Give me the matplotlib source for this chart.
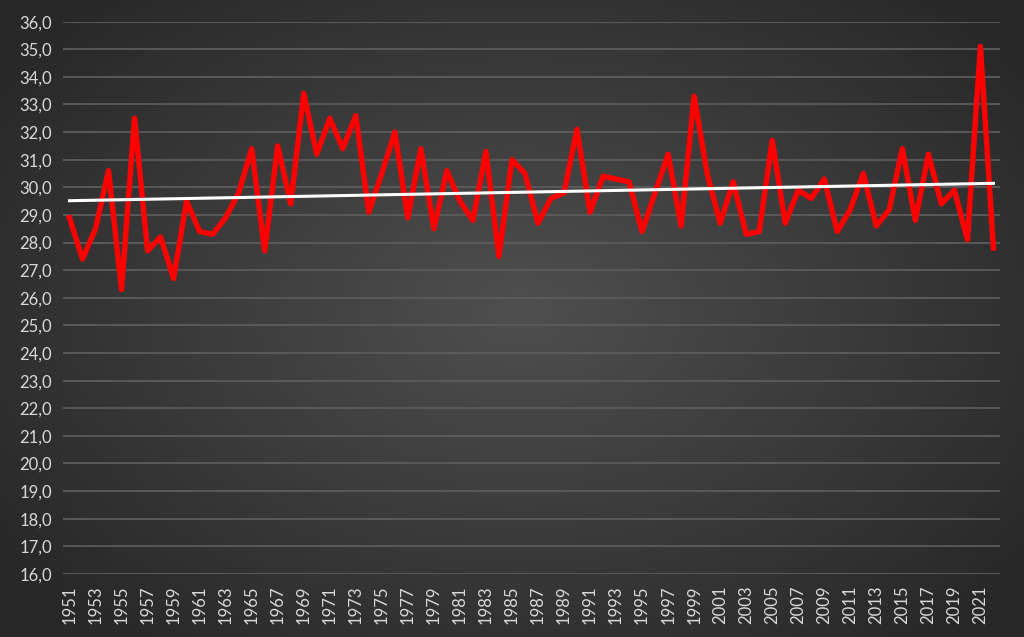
import matplotlib
matplotlib.use("Agg")
import matplotlib.pyplot as plt
from matplotlib.ticker import FuncFormatter
import numpy as np

# yearly values
years = list(range(1951, 2023))
values = [
    28.9, 27.4, 28.5, 30.6, 26.3, 32.5, 27.7, 28.2, 26.7, 29.5,
    28.4, 28.3, 28.9, 29.8, 31.4, 27.7, 31.5, 29.4, 33.4, 31.2,
    32.5, 31.4, 32.6, 29.1, 30.5, 32.0, 28.9, 31.4, 28.5, 30.6,
    29.5, 28.8, 31.3, 27.5, 31.0, 30.5, 28.7, 29.6, 29.8, 32.1,
    29.1, 30.4, 30.3, 30.2, 28.4, 29.8, 31.2, 28.6, 33.3, 30.5,
    28.7, 30.2, 28.3, 28.4, 31.7, 28.7, 29.9, 29.6, 30.3, 28.4,
    29.2, 30.5, 28.6, 29.2, 31.4, 28.8, 31.2, 29.4, 29.9, 28.1,
    35.1, 27.8,
]
tick_years = years[::2]

fig = plt.figure(figsize=(10.24, 6.37), dpi=100)

# radial gradient background
bg = fig.add_axes([0, 0, 1, 1], zorder=0)
h, w = 637, 1024
yy, xx = np.mgrid[0:h, 0:w]
r = np.sqrt(((xx - 520) / 620.0) ** 2 + ((yy - 310) / 420.0) ** 2)
r = np.clip(r, 0, 1)
shade = 0.31 - 0.15 * r
img = np.dstack([shade, shade, shade])
bg.imshow(img, aspect="auto", extent=[0, 1, 0, 1], origin="upper")
bg.axis("off")

ax = fig.add_axes([0.0615, 0.099, 0.915, 0.867], zorder=1)
ax.patch.set_alpha(0)

x = np.arange(len(years))
ax.plot(x, values, color="#ff0000", lw=3.9, solid_joinstyle="round", zorder=3)

# linear trend line
k, b = np.polyfit(x, values, 1)
ax.plot(x, k * x + b, color="white", lw=2.2, zorder=4)

ax.set_ylim(16, 36)
ax.set_yticks(np.arange(16, 36.1, 1))
ax.yaxis.set_major_formatter(FuncFormatter(lambda v, p: f"{v:.1f}".replace(".", ",")))
ax.set_xlim(-0.5, len(years) - 0.5)
ax.set_xticks([years.index(t) for t in tick_years])
ax.set_xticklabels([str(t) for t in tick_years], rotation=90)

ax.grid(axis="y", color="#5c5c5c", lw=1.3)
ax.set_axisbelow(True)
for s in ax.spines.values():
    s.set_visible(False)
ax.tick_params(length=0, colors="#d9d9d9", labelsize=12)
for lab in ax.get_xticklabels() + ax.get_yticklabels():
    lab.set_family("Lato")
ax.tick_params(axis="x", pad=8)
ax.tick_params(axis="y", pad=8)

fig.savefig("out.png", dpi=100)
